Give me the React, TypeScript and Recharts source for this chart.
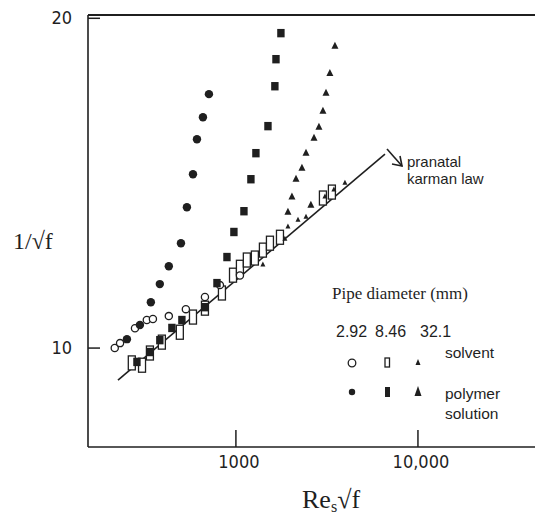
import { ScatterChart, Scatter, XAxis, YAxis, ReferenceLine } from "recharts";

const INK = "#1f1f1f";
const SERIF = "'Liberation Serif', 'Times New Roman', serif";
const NARROW = "'Liberation Sans Narrow', 'Arial Narrow', 'DejaVu Sans Condensed', sans-serif";
const SANS = "'Liberation Sans', Arial, sans-serif";

// axis ranges (x is Re_s * sqrt(f), log scale; y is 1/sqrt(f))
const xDomain = [154, 43950];
const yDomain = [7, 20.1];
const xTicks = [1000, 10000];
const xTickLabels = ["1000", "10,000"];
const yTicks = [10, 20];
const yTickLabels = ["10", "20"];

// pipe diameter 2.92 mm
const solvent292 = [
  { x: 216, y: 10.0 }, { x: 231, y: 10.15 }, { x: 279, y: 10.6 }, { x: 324, y: 10.85 },
  { x: 350, y: 10.88 }, { x: 428, y: 10.97 }, { x: 531, y: 11.18 }, { x: 676, y: 11.55 },
  { x: 817, y: 11.91 }, { x: 1052, y: 12.2 },
];
const polymer292 = [
  { x: 252, y: 10.27 }, { x: 297, y: 10.7 }, { x: 341, y: 11.39 }, { x: 382, y: 11.94 },
  { x: 428, y: 12.48 }, { x: 499, y: 13.18 }, { x: 538, y: 14.27 }, { x: 581, y: 15.27 },
  { x: 611, y: 16.33 }, { x: 659, y: 17.0 }, { x: 711, y: 17.7 },
];

// pipe diameter 8.46 mm
const solvent846 = [
  { x: 268, y: 9.55 }, { x: 305, y: 9.48 }, { x: 337, y: 9.85 }, { x: 392, y: 10.18 },
  { x: 492, y: 10.48 }, { x: 581, y: 10.94 }, { x: 676, y: 11.21 }, { x: 838, y: 11.67 },
  { x: 964, y: 12.21 }, { x: 1052, y: 12.45 }, { x: 1148, y: 12.67 }, { x: 1271, y: 12.73 },
  { x: 1407, y: 12.97 }, { x: 1538, y: 13.18 }, { x: 1746, y: 13.36 }, { x: 3006, y: 14.55 },
  { x: 3367, y: 14.73 },
];
const polymer846 = [
  { x: 286, y: 9.58 }, { x: 337, y: 9.88 }, { x: 382, y: 10.24 }, { x: 445, y: 10.61 },
  { x: 505, y: 10.85 }, { x: 676, y: 11.24 }, { x: 787, y: 11.97 }, { x: 893, y: 12.76 },
  { x: 975, y: 13.52 }, { x: 1107, y: 14.15 }, { x: 1209, y: 15.12 }, { x: 1288, y: 15.91 },
  { x: 1500, y: 16.73 }, { x: 1637, y: 17.94 }, { x: 1660, y: 18.76 }, { x: 1767, y: 19.55 },
];

// pipe diameter 32.1 mm
const solvent321 = [
  { x: 1407, y: 12.55 }, { x: 1858, y: 13.33 }, { x: 1931, y: 13.7 }, { x: 2193, y: 13.91 },
  { x: 2427, y: 14.0 }, { x: 3083, y: 14.61 }, { x: 3452, y: 14.82 }, { x: 3972, y: 15.03 },
];
const polymer321 = [
  { x: 1931, y: 14.15 }, { x: 2032, y: 14.61 }, { x: 2138, y: 15.15 }, { x: 2306, y: 15.48 },
  { x: 2427, y: 15.94 }, { x: 2582, y: 14.36 }, { x: 2685, y: 16.39 }, { x: 2858, y: 16.73 },
  { x: 3006, y: 17.21 }, { x: 3126, y: 17.76 }, { x: 3283, y: 18.36 }, { x: 3499, y: 19.18 },
];

// Prandtl-Karman law, end points
const karman = [
  { x: 225, y: 9.03 },
  { x: 6590, y: 15.88 },
];

const OpenCircle = ({ cx, cy }: any) => (
  <circle cx={cx} cy={cy} r={3.6} fill="#fff" stroke={INK} strokeWidth={1.3} />
);
const FilledCircle = ({ cx, cy }: any) => <circle cx={cx} cy={cy} r={4.2} fill={INK} />;
const OpenBar = ({ cx, cy }: any) => (
  <rect x={cx - 3.5} y={cy - 7} width={7} height={14} fill="#fff" stroke={INK} strokeWidth={1.3} />
);
const FilledBar = ({ cx, cy }: any) => (
  <rect x={cx - 3.7} y={cy - 4.2} width={7.4} height={8.4} fill={INK} />
);
const triangle = (w: number, h: number) => ({ cx, cy }: any) => (
  <polygon
    points={`${cx},${cy - h / 2} ${cx + w / 2},${cy + h / 2} ${cx - w / 2},${cy + h / 2}`}
    fill={INK}
  />
);
const SmallTri = triangle(5, 5);
const BigTri = triangle(7, 7);
const NoDot = () => <g />;

const XTick = ({ x, y, index }: any) => (
  <g>
    <line x1={x} x2={x} y1={y} y2={y - 17} stroke={INK} strokeWidth={1.5} />
    <text x={x + 3} y={y + 21} textAnchor="middle" fontFamily={NARROW} fontSize={18} fill={INK}>
      {xTickLabels[index]}
    </text>
  </g>
);

const YTick = ({ x, y, index }: any) => (
  <g>
    <line x1={x} x2={x + 12} y1={y} y2={y} stroke={INK} strokeWidth={1.5} />
    <text x={x - 16} y={y + 6} textAnchor="end" fontFamily={NARROW} fontSize={18} fill={INK}>
      {yTickLabels[index]}
    </text>
  </g>
);

function Annotations() {
  return (
    <svg
      width={535}
      height={516}
      style={{ position: "absolute", left: 0, top: 0, pointerEvents: "none" }}
    >
      {/* axis titles */}
      <text x={13} y={249} fontFamily={SERIF} fontSize={24} fill={INK}>
        1/√f
      </text>
      <text x={302} y={508} fontFamily={SERIF} fontSize={26} fill={INK}>
        Re<tspan fontSize={16} dy={4}>s</tspan>
        <tspan dy={-4}>√f</tspan>
      </text>

      {/* arrow to the Karman line */}
      <g stroke={INK} strokeWidth={1.6} fill="none">
        <line x1={387} y1={149} x2={402} y2={166} />
        <polyline points="400,156 402,166 392,164" />
      </g>
      <text x={407} y={167} fontFamily={SANS} fontSize={15} fill={INK}>
        pranatal
      </text>
      <text x={407} y={184} fontFamily={SANS} fontSize={15} fill={INK}>
        karman law
      </text>

      {/* legend */}
      <text x={332} y={299} fontFamily={SERIF} fontSize={17} fill={INK}>
        Pipe diameter (mm)
      </text>
      <g fontFamily={SANS} fontSize={16} fill={INK}>
        <text x={336} y={337}>2.92</text>
        <text x={375} y={337}>8.46</text>
        <text x={420} y={337}>32.1</text>
      </g>
      <circle cx={352} cy={363} r={3.8} fill="#fff" stroke={INK} strokeWidth={1.3} />
      <rect x={385} y={358} width={4.5} height={9} fill="#fff" stroke={INK} strokeWidth={1.3} />
      <polygon points="418,359 420.5,365 415.5,365" fill={INK} />
      <circle cx={352} cy={392} r={3.2} fill={INK} />
      <rect x={385} y={387} width={5} height={10} fill={INK} />
      <polygon points="418,386 421.5,396 414.5,396" fill={INK} />
      <g fontFamily={SANS} fontSize={15.5} fill={INK}>
        <text x={445} y={358}>solvent</text>
        <text x={445} y={399}>polymer</text>
        <text x={445} y={419}>solution</text>
      </g>
    </svg>
  );
}

export default function App() {
  return (
    <div style={{ position: "absolute", left: 0, top: 0, width: 535, height: 516, background: "#fff" }}>
      <ScatterChart width={535} height={516} margin={{ top: 15, right: 0, bottom: 39, left: 0 }}>
        <XAxis
          type="number"
          dataKey="x"
          scale="log"
          domain={xDomain}
          allowDataOverflow
          ticks={xTicks}
          interval={0}
          tick={XTick}
          tickLine={false}
          tickSize={0}
          tickMargin={0}
          height={30}
          axisLine={{ stroke: INK, strokeWidth: 1.6 }}
        />
        <YAxis
          type="number"
          dataKey="y"
          domain={yDomain}
          allowDataOverflow
          ticks={yTicks}
          interval={0}
          tick={YTick}
          tickLine={false}
          tickSize={0}
          tickMargin={0}
          width={88}
          axisLine={{ stroke: INK, strokeWidth: 1.6 }}
        />
        <ReferenceLine y={yDomain[1]} stroke={INK} strokeWidth={2} />
        <Scatter
          data={karman}
          line={{ stroke: INK, strokeWidth: 1.6 }}
          shape={NoDot}
          isAnimationActive={false}
        />
        <Scatter data={solvent846} shape={OpenBar} isAnimationActive={false} />
        <Scatter data={solvent292} shape={OpenCircle} isAnimationActive={false} />
        <Scatter data={polymer846} shape={FilledBar} isAnimationActive={false} />
        <Scatter data={polymer292} shape={FilledCircle} isAnimationActive={false} />
        <Scatter data={solvent321} shape={SmallTri} isAnimationActive={false} />
        <Scatter data={polymer321} shape={BigTri} isAnimationActive={false} />
      </ScatterChart>
      <Annotations />
    </div>
  );
}
